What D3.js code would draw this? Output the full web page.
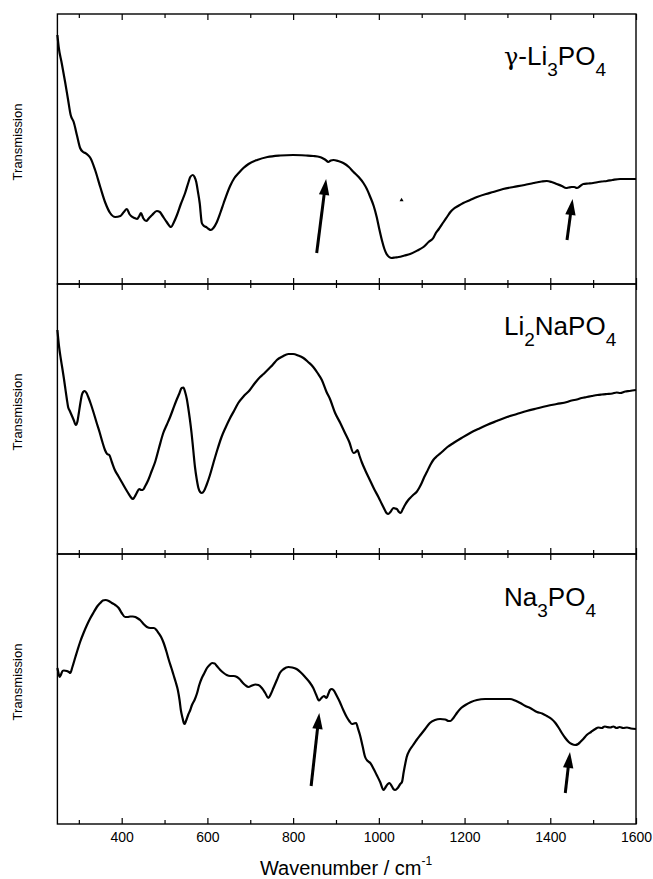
<!DOCTYPE html>
<html>
<head>
<meta charset="utf-8">
<script src="https://cdn.jsdelivr.net/npm/d3@7"></script>
<style>
  html, body { margin: 0; padding: 0; background: #fff; }
  svg { display: block; font-family: "Liberation Sans", Arial, Helvetica, sans-serif; }
</style>
</head>
<body>
<svg id="chart" width="653" height="879"></svg>
<script>
// ---- IR transmission spectra (arbitrary units per panel) ----
const li3po4Wavenumber = [250,253,260,268,275,281,288,296,303,310,315,321,327,338,350,362,373,385,397,405,412,418,422,430,436,441,445,450,457,464,471,482,489,494,505,515,522,529,538,548,556,560,566,570,574,578,582,587,592,597,603,608,614,621,630,638,653,663,673,684,696,716,740,770,800,830,847,862,870,876,882,888,894,905,917,930,941,953,964,972,980,988,995,1001,1007,1013,1018,1024,1030,1038,1046,1060,1073,1090,1104,1116,1127,1133,1140,1151,1159,1167,1174,1185,1197,1213,1229,1250,1267,1290,1314,1340,1361,1380,1392,1403,1415,1427,1437,1443,1450,1456,1462,1470,1477,1489,1500,1512,1520,1532,1545,1563,1580,1600];
const li3po4Transmission = [249,237,221,202,184,169,162,148,136,132,131,129,126,114,97,81,71,67,68,72,75,70,68,66,65,68,71,66,63,66,69,73,72,69,62,57,62,69,80,91,102,107,109,107,102,92,81,61,58,57,55,54,56,61,71,81,98,106,111,116,120,124,127,128.5,129,128.5,128,127,125.5,124,122,123.5,124,123,121,117,112,107,101,95,87,78,67,55,44,35,30,27,26,26.5,27,28.5,30,33.5,37,42,46,51,55,62,67,72,75,78,81,84,87,90,92,95,97,99,101,102.5,103,102,100,98,96,96.5,97,97,96,98,100,100.5,101,102,102.5,103,104,105,105,105];

const li2napo4Wavenumber = [250,254,258,261,265,268,272,275,279,283,288,293,297,300,304,307,310,314,318,322,328,334,341,349,355,361,366,371,377,384,392,400,408,415,421,426,430,435,441,446,449,455,462,470,478,487,497,505,513,520,528,534,540,544,548,552,555,559,563,567,571,575,579,583,587,592,598,606,614,623,633,643,653,662,672,685,699,711,723,731,738,745,752,762,775,789,800,812,824,835,847,857,867,878,886,898,910,921,931,941,946,950,955,960,969,979,989,999,1007,1014,1018,1022,1027,1034,1038,1042,1047,1051,1056,1061,1067,1073,1080,1088,1094,1100,1106,1112,1120,1127,1136,1147,1160,1174,1193,1213,1232,1252,1275,1299,1322,1345,1368,1392,1415,1439,1450,1462,1473,1485,1497,1510,1520,1532,1545,1555,1563,1575,1585,1600];
const li2napo4Transmission = [224,207,195,187,176,167,155,147,143,139,134,129,133,141,152,159,162,163,161,157,150,142,132,121,112,104,100,99,92,84,78,72,66,61,57,55,57,61,65,64,64,68,74,83,92,106,121,129,137,145,154,160,166,166.5,162,155,147,135,121,104,87,75,66,62,61,63,69,79,91,104,117,127,136,143,151,158,164,171,177,180,183,186,189,194,197.5,200,200,198.5,196,192,187,181,174,162,155,141,131,121,112,101,102,104,98,92,83,74,65,57,50,44,41,40,42,46,45.5,45,42,41,45,49,53,56,59,62,66,71,77,82,89,94,98,102,107,111,116,121,125,129,133,137,140,143,145.5,148,150,152,153.5,154.5,156,157,158,159,159.5,160,160.5,161.5,161,162.5,163,164];

const na3po4Wavenumber = [250,253,255,258,262,265,272,277,280,285,292,297,303,311,319,327,335,342,350,356,362,370,377,385,393,400,408,414,420,426,432,438,443,451,459,467,475,481,486,492,498,504,510,516,521,526,531,535,538,542,545,547,550,555,560,564,570,576,581,587,593,599,605,611,617,622,630,638,645,653,661,669,675,681,688,696,704,712,719,727,735,742,748,754,762,769,778,789,798,808,818,828,838,847,854,860,866,872,878,882,886,890,894,902,909,917,925,931,937,942,947,951,956,962,968,974,980,988,995,1003,1011,1016,1021,1025,1030,1034,1038,1044,1050,1054,1058,1062,1065,1072,1080,1088,1097,1108,1119,1131,1143,1155,1163,1167,1174,1182,1192,1202,1215,1229,1248,1267,1287,1306,1318,1330,1342,1353,1369,1381,1392,1403,1412,1420,1427,1435,1443,1450,1458,1465,1470,1477,1485,1495,1505,1512,1520,1527,1532,1540,1547,1555,1562,1570,1579,1588,1600];
const na3po4Transmission = [156,150,147,149,153,153.5,153,152,151,157,167,174,182,191,199,206,212,217,221,223.5,224,223,221,219,216,211,207,207,207.5,207.5,207,205.5,204,200,197,196,196,194,191,187,181,173,164,156,149,142,134,124,114,106,101,100,103,109,114,119,124,131,139,146,151,156,159,161,160.5,158,154,151,149,148,148,147,145,142,139,137,138.5,139.5,139,136,131,126,130,136,144,151,155,157,156.5,155,151.5,147,142,136,129,123.5,126,128,126,130,134,135,134,128,122,114,107,103,100,100.5,101,96,89,78,67,63,61,55,49,42,34,37,40,41,38,35,34,36,40,42,52,61,67,74,79,84,89,95,101,104,105,104.5,103,103,106,111,116,119,122,124,125,125,125,125,123.5,121,118,116,112,110.5,108,105,101,96,91,86,82,80,79,80,82,85,89,92,95,96.5,96,97.5,97,96.5,97.5,96,97,96,96.5,95.5,95];

// Panel titles as [text, role] runs: 0 normal, 1 subscript, 2 greek prefix
const panelLabels = [
  [["γ", 2], ["-Li", 0], ["3", 1], ["PO", 0], ["4", 1]],
  [["Li", 0], ["2", 1], ["NaPO", 0], ["4", 1]],
  [["Na", 0], ["3", 1], ["PO", 0], ["4", 1]]
];

// Arrows marking weak bands: panel index, tail and head (wavenumber, transmission)
const arrowPanel = [0, 0, 2, 2];
const arrowTailWn = [855, 1439, 842, 1435];
const arrowTailT  = [31, 44, 38, 31];
const arrowHeadWn = [877, 1452, 861, 1446];
const arrowHeadT  = [105, 85, 111, 72];

// Small spike mark in the top spectrum
const spikeWn = [1053];
const spikeT = [84];

const majorTicks = [400, 600, 800, 1000, 1200, 1400, 1600];
const minorTicks = [300, 500, 700, 900, 1100, 1300, 1500];

// ---- layout ----
const svg = d3.select("#chart");
const left = 57.4, right = 636;
const panelTops = [14, 284, 554];
const panelH = 270;

const x = d3.scaleLinear().domain([250, 1600]).range([left, right]);
const yScales = panelTops.map(t => d3.scaleLinear().domain([0, 270]).range([t + panelH, t]));

const series = [
  { wn: li3po4Wavenumber, t: li3po4Transmission },
  { wn: li2napo4Wavenumber, t: li2napo4Transmission },
  { wn: na3po4Wavenumber, t: na3po4Transmission }
];

panelTops.forEach((top, i) => {
  const g = svg.append("g");
  const y = yScales[i];

  // inward ticks on top and bottom edges
  const topMajor = d3.axisTop(x).tickValues(majorTicks).tickSize(-6).tickFormat("");
  const topMinor = d3.axisTop(x).tickValues(minorTicks).tickSize(-4).tickFormat("");
  const botMajor = d3.axisBottom(x).tickValues(majorTicks).tickSize(-6).tickPadding(8)
    .tickFormat(i === 2 ? d3.format("d") : "");
  const botMinor = d3.axisBottom(x).tickValues(minorTicks).tickSize(-4).tickFormat("");

  [[topMajor, top], [topMinor, top], [botMajor, top + panelH], [botMinor, top + panelH]].forEach(([ax, ty]) => {
    const a = g.append("g").attr("transform", `translate(0,${ty})`).call(ax);
    a.select(".domain").remove();
    a.selectAll("line").attr("stroke", "#000").attr("stroke-width", 1.2);
    a.selectAll("text").attr("fill", "#000").style("font-size", "14px")
      .style("font-family", "'Liberation Sans', Arial, sans-serif");
  });

  // frame
  g.append("rect")
    .attr("x", left).attr("y", top).attr("width", right - left).attr("height", panelH)
    .attr("fill", "none").attr("stroke", "#000").attr("stroke-width", 1.4);

  // spectrum
  const s = series[i];
  const line = d3.line().x(d => x(d[0])).y(d => y(d[1])).curve(d3.curveMonotoneX);
  g.append("path")
    .datum(d3.zip(s.wn, s.t))
    .attr("d", line)
    .attr("fill", "none").attr("stroke", "#000").attr("stroke-width", 2.2)
    .attr("stroke-linejoin", "round");

  // y axis title
  g.append("text")
    .attr("transform", `translate(22,${top + panelH / 2 - 7}) rotate(-90)`)
    .attr("text-anchor", "middle")
    .style("font-size", "13px")
    .text("Transmission");

  // compound label with subscripts
  const lab = g.append("text")
    .attr("x", 504).attr("y", [65, 335, 606][i])
    .style("font-size", "26px");
  let shifted = false;
  panelLabels[i].forEach(([txt, role]) => {
    const ts = lab.append("tspan").text(txt);
    if (role === 2) { ts.style("font-family", "'DejaVu Serif', serif").style("font-size", "24px"); }
    if (role === 1 && !shifted) { ts.attr("dy", 11).style("font-size", "19px"); shifted = true; }
    else if (role !== 1 && shifted) { ts.attr("dy", -11); shifted = false; }
    else if (role === 1) { ts.style("font-size", "19px"); }
  });
});

// arrows
arrowPanel.forEach((p, k) => {
  const y = yScales[p];
  const x0 = x(arrowTailWn[k]), y0 = y(arrowTailT[k]);
  const x1 = x(arrowHeadWn[k]), y1 = y(arrowHeadT[k]);
  const len = Math.hypot(x1 - x0, y1 - y0);
  const ux = (x1 - x0) / len, uy = (y1 - y0) / len;
  const headL = 16, headW = 5.2;
  const bx = x1 - ux * headL, by = y1 - uy * headL;
  svg.append("line")
    .attr("x1", x0).attr("y1", y0).attr("x2", bx + ux * 2).attr("y2", by + uy * 2)
    .attr("stroke", "#000").attr("stroke-width", 3);
  svg.append("path")
    .attr("d", `M${x1},${y1}L${bx - uy * headW},${by + ux * headW}L${bx + uy * headW},${by - ux * headW}Z`)
    .attr("fill", "#000");
});

// tiny spike mark
spikeWn.forEach((w, k) => {
  svg.append("path")
    .attr("transform", `translate(${x(w)},${yScales[0](spikeT[k])})`)
    .attr("d", d3.symbol(d3.symbolTriangle, 7)())
    .attr("fill", "#000");
});

// x axis title
const xt = svg.append("text")
  .attr("x", 346).attr("y", 875)
  .attr("text-anchor", "middle")
  .style("font-size", "20px");
xt.append("tspan").text("Wavenumber / cm");
xt.append("tspan").attr("dy", -10).style("font-size", "12px").text("-1");
</script>
</body>
</html>
